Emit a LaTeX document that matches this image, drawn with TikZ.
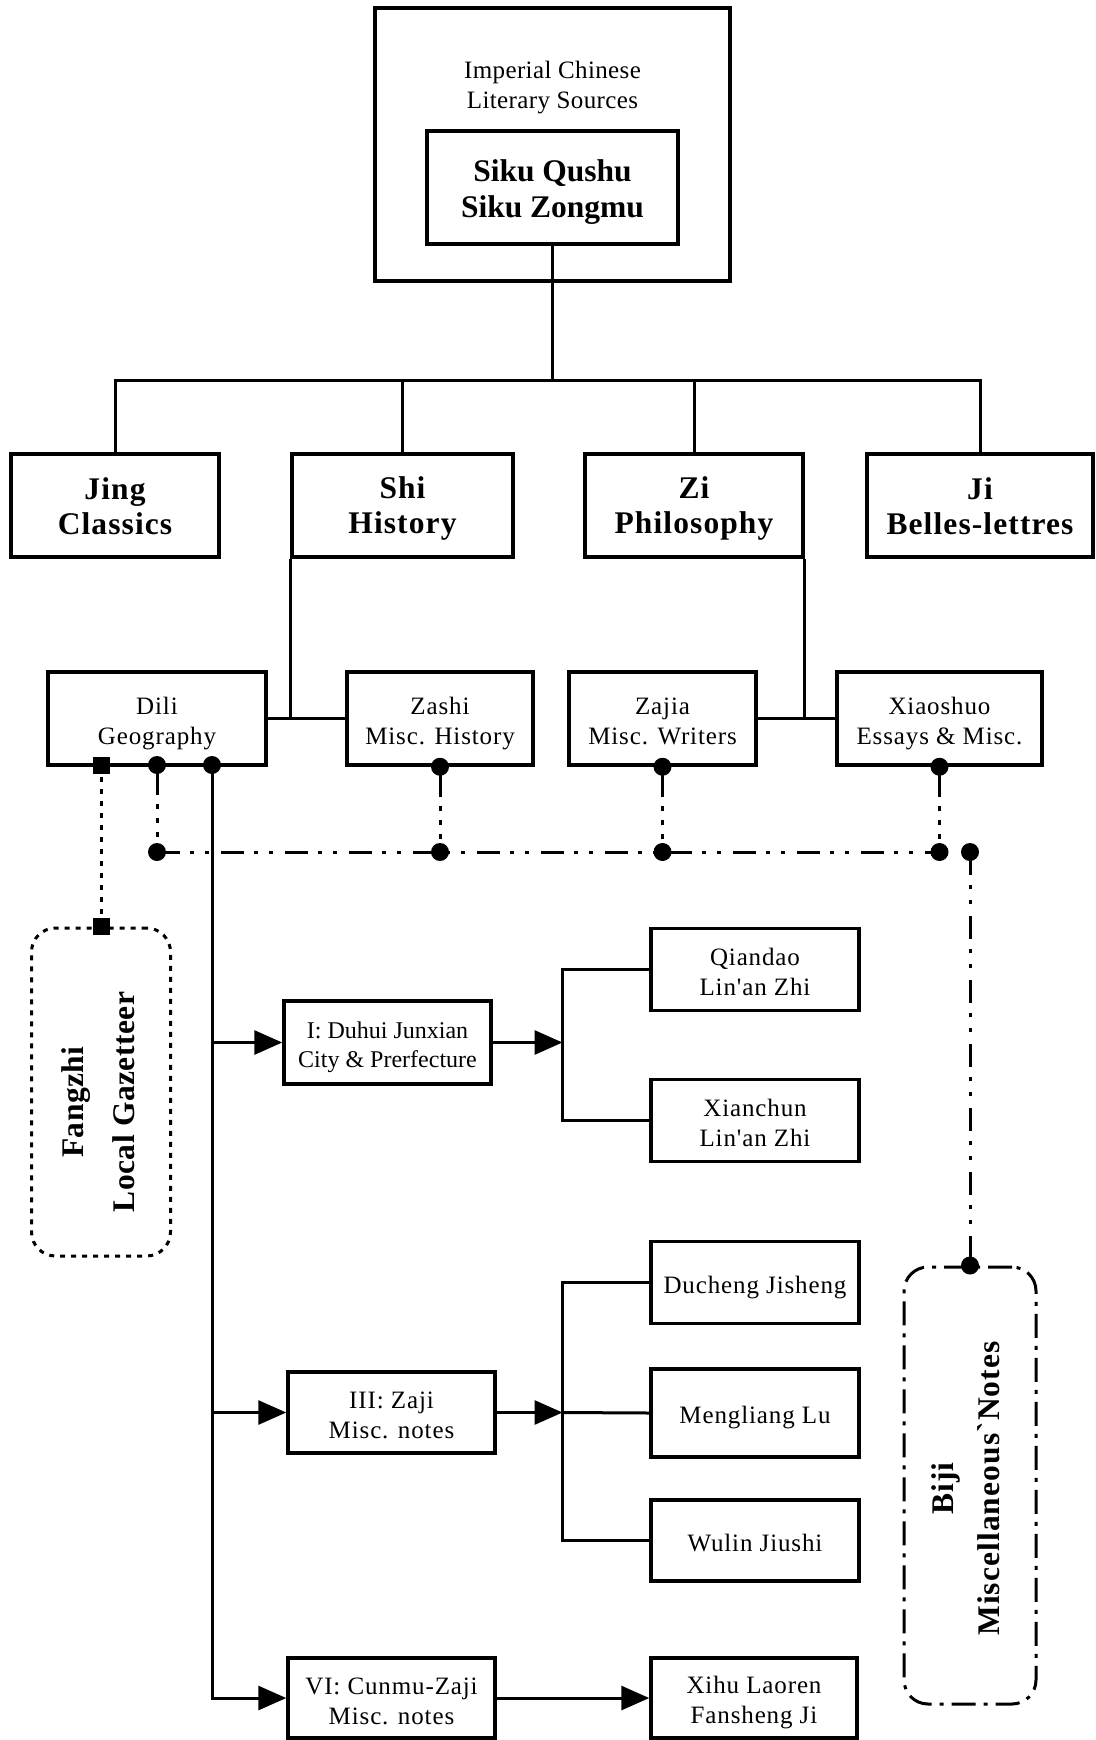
\documentclass[tikz,border=0pt]{standalone}
\usepackage{fontspec}
\newfontfamily\dfont{Liberation Serif}
\newfontfamily\dfontw{Liberation Serif}[LetterSpace=3.5]
\newfontfamily\dfontt{Liberation Serif}[LetterSpace=1.5]
\usetikzlibrary{arrows.meta}
% line struts: the first line of a box is a little taller, which sets the text slightly low
\newcommand\rgtop{\rule[-5pt]{0pt}{32pt}}
\newcommand\rgln{\rule[-5pt]{0pt}{25pt}}
\newcommand\bdtop{\rule[-5.5pt]{0pt}{34pt}}
\newcommand\bdln{\rule[-5.5pt]{0pt}{29.5pt}}
\newcommand\sktop{\rule[-5.5pt]{0pt}{36pt}}
\newcommand\skln{\rule[-5.5pt]{0pt}{30pt}}
\newcommand\smtop{\rule[-5pt]{0pt}{31.5pt}}
\newcommand\smln{\rule[-5pt]{0pt}{23.5pt}}
\newcommand\ttln{\rule[-5pt]{0pt}{24.5pt}}
\begin{document}
\begin{tikzpicture}[x=1pt,y=-1pt,
  rfont/.style={font=\dfontw\fontsize{25}{30}\selectfont},
  bfont/.style={font=\dfontw\bfseries\fontsize{31.5}{35}\selectfont},
  boxn/.style={draw, line width=3.5pt, inner sep=0pt, align=center, rfont},
  boldbox/.style={boxn, bfont},
  conn/.style={line width=3pt},
  dotconn/.style={line width=3pt, dash pattern=on 30pt off 9pt on 5pt off 9pt on 5pt off 9pt on 5pt off 9pt on 5pt off 9pt},
  ddconn/.style={line width=3pt, dash pattern=on 23pt off 10pt on 4pt off 11pt on 4pt off 12pt},
  arr/.style={conn, -{Triangle[length=28pt,width=24pt]}},
  dotmark/.style={circle, fill, inner sep=0pt, minimum size=18pt},
  sqmark/.style={rectangle, fill, inner sep=0pt, minimum size=17pt},
]
\useasboundingbox (0,0) rectangle (1095,1740);

% ---- source box
\node[draw, line width=3.5pt, inner sep=0pt, minimum width=355pt, minimum height=273pt] (src) at (552.5,144.5) {};
\node[align=center, inner sep=0pt, font=\dfontt\fontsize{25}{29.5}\selectfont] (title) at (552.5,86.5) {\ttln Imperial Chinese\\\ttln Literary Sources};
\node[boldbox, minimum width=251pt, minimum height=113pt, font=\dfont\bfseries\fontsize{31.5}{35.5}\selectfont] (siku) at (552.5,187.5) {\sktop Siku Qushu\\\skln Siku Zongmu};

% ---- four branches
\coordinate (bus) at (552.5,380.5);
\node[boldbox, minimum width=208pt, minimum height=103pt] (jing) at (115,505.5) {\bdtop Jing\\\bdln Classics};
\node[boldbox, minimum width=221pt, minimum height=103pt] (shi) at (402.5,505.5) {\bdtop Shi\\\bdln History};
\node[boldbox, minimum width=218pt, minimum height=103pt] (zi) at (694,505.5) {\bdtop Zi\\\bdln Philosophy};
\node[boldbox, minimum width=226pt, minimum height=103pt] (ji) at (980,505.5) {\bdtop Ji\\\bdln Belles-lettres};

\draw[conn] (siku.south) -- (bus);
\draw[conn] (jing.north) |- (bus) -| (ji.north);
\draw[conn] (shi.north) -- (shi.north |- bus);
\draw[conn] (zi.north) -- (zi.north |- bus);

% ---- subdivisions
\node[boxn, minimum width=218pt, minimum height=93pt] (dili) at (157,718.5) {\rgtop Dili\\\rgln Geography};
\node[boxn, minimum width=186pt, minimum height=93pt] (zashi) at (440,718.5) {\rgtop Zashi\\\rgln Misc. History};
\node[boxn, minimum width=187pt, minimum height=93pt] (zajia) at (662.5,718.5) {\rgtop Zajia\\\rgln Misc. Writers};
\node[boxn, minimum width=205pt, minimum height=93pt] (xiaoshuo) at (939.5,718.5) {\rgtop Xiaoshuo\\\rgln Essays \& Misc.};

\draw[conn] (dili.east) -- (zashi.west);
\draw[conn] (shi.south west) -- (shi.south west |- dili.east);
\draw[conn] (zajia.east) -- (xiaoshuo.west);
\draw[conn] (zi.south east) -- (zi.south east |- zajia.east);

% ---- link markers
\node[sqmark] (dsq) at (101,765) {};
\node[dotmark] (ddot) at (157,765) {};
\node[dotmark] (dtrunk) at (212,765) {};
\node[dotmark] (zsdot) at (zashi.south) {};
\node[dotmark] (zjdot) at (zajia.south) {};
\node[dotmark] (xsdot) at (xiaoshuo.south) {};

\node[dotmark] (b1) at (157,852) {};
\node[dotmark] (b2) at (440,852) {};
\node[dotmark] (b3) at (662.5,852) {};
\node[dotmark] (b4) at (939.5,852) {};
\node[dotmark] (b5) at (970,852) {};

\draw[dotconn] (ddot.center) -- (b1.center);
\draw[dotconn] (zsdot.center) -- (b2.center);
\draw[dotconn] (zjdot.center) -- (b3.center);
\draw[dotconn] (xsdot.center) -- (b4.center);
\draw[ddconn] (b1.center) -- (b4.center);

% ---- Fangzhi (text turned a quarter turn; its shifts are in the turned frame)
\node[draw, line width=3pt, dash pattern=on 5pt off 6pt, rounded corners=24pt, minimum width=139pt, minimum height=328pt] (fangzhi) at (101,1092) {};
\node[rotate=90, align=center, font=\dfontt\bfseries\fontsize{31.5}{35}\selectfont, xshift=-10pt, yshift=3pt] (fztext) at (fangzhi.center) {Fangzhi\\[16pt]Local Gazetteer};
\node[sqmark] (fzsq) at (fangzhi.north) {};
\draw[line width=3pt, dash pattern=on 5pt off 7pt] (dsq.center) -- (fzsq.center);

% ---- Biji
\node[draw, line width=3pt, dash pattern=on 24pt off 8pt on 4pt off 8pt, rounded corners=24pt, minimum width=132pt, minimum height=437pt] (biji) at (970,1485.5) {};
\node[rotate=90, align=center, bfont, xshift=-3pt, yshift=4.5pt] (bjtext) at (biji.center) {Biji\\[11pt]Miscellaneous\char"60 Notes};
\node[dotmark] (bjdot) at (biji.north) {};
\draw[ddconn] (b5.center) -- (bjdot.center);

% ---- Dili sections
\node[boxn, minimum width=207pt, minimum height=83pt, font=\dfont\fontsize{24}{28.5}\selectfont] (duhui) at (387.5,1042.5) {\smtop I: Duhui Junxian\\\smln City \& Prerfecture};
\node[boxn, minimum width=207pt, minimum height=81pt] (zaji) at (391.5,1412.5) {\rgtop III: Zaji\\\rgln Misc. notes};
\node[boxn, minimum width=207pt, minimum height=80pt] (cunmu) at (391.5,1698) {\rgtop VI: Cunmu-Zaji\\\rgln Misc. notes};

\draw[arr] (dtrunk.center) |- (cunmu.west);
\draw[arr] (dtrunk.center |- duhui.west) -- (duhui.west);
\draw[arr] (dtrunk.center |- zaji.west) -- (zaji.west);

% ---- works
\node[boxn, minimum width=208pt, minimum height=82pt] (qiandao) at (755,969.5) {\rgtop Qiandao\\\rgln Lin'an Zhi};
\node[boxn, minimum width=208pt, minimum height=82pt] (xianchun) at (755,1120.5) {\rgtop Xianchun\\\rgln Lin'an Zhi};
\coordinate (fork1) at (562.5,1042.5);
\draw[arr] (duhui.east) -- (fork1);
\draw[conn] (qiandao.west) -| (fork1) |- (xianchun.west);

\node[boxn, minimum width=208pt, minimum height=82pt] (ducheng) at (755,1282.5) {\rgtop Ducheng Jisheng};
\node[boxn, minimum width=208pt, minimum height=88pt] (mengliang) at (755,1413) {\rgtop Mengliang Lu};
\node[boxn, minimum width=208pt, minimum height=81pt] (wulin) at (755,1540.5) {\rgtop Wulin Jiushi};
\coordinate (fork2) at (562.5,1412.5);
\draw[arr] (zaji.east) -- (fork2);
\draw[conn] (ducheng.west) -| (fork2) |- (wulin.west);
\draw[conn] (fork2) -- (mengliang.west);

\node[boxn, minimum width=206pt, minimum height=80pt] (xihu) at (754,1698) {\rgtop Xihu Laoren\\\rgln Fansheng Ji};
\draw[arr] (cunmu.east) -- (xihu.west);
\end{tikzpicture}
\end{document}
